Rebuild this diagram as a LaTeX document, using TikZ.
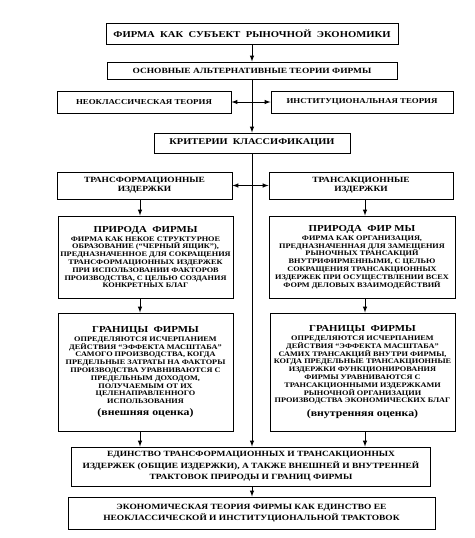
\documentclass[tikz,border=0pt]{standalone}
\usepackage{fontspec}
\setmainfont{Liberation Serif}[FakeStretch=1.18]
\usetikzlibrary{calc}
\newcommand\boxfont[2]{\fontsize{#1}{#2}\selectfont\bfseries}

\begin{document}
\begin{tikzpicture}[x=1pt,y=-1pt]
		\tikzstyle{every path}=[line width=1pt]
		\tikzstyle{ArrSty}=[->,>=latex]
		\tikzstyle{DblSty}=[<->,>=latex]
		\tikzstyle{frame}=[draw,inner sep=1pt,align=center,font=\boxfont{7}{7.8}]

\useasboundingbox (0,0) rectangle (474,538);

\coordinate (cx) at (252,0);
\coordinate (lx) at (140,0);
\coordinate (rx) at (365,0);

% upper part
\node[frame,minimum width=292,minimum height=21,font=\boxfont{9}{11}] at (252,33.5) (firm) {ФИРМА\ \ КАК\ \ СУБЪЕКТ\ \ РЫНОЧНОЙ\ \ ЭКОНОМИКИ};
\node[frame,minimum width=290,minimum height=17,font=\boxfont{8}{9}] at (252,70.5) (alt) {ОСНОВНЫЕ АЛЬТЕРНАТИВНЫЕ ТЕОРИИ ФИРМЫ};
\node[frame,minimum width=174,minimum height=22,font=\boxfont{7.5}{9}] at (144,102) (neo) {НЕОКЛАССИЧЕСКАЯ ТЕОРИЯ};
\node[frame,minimum width=182,minimum height=22,font=\boxfont{7.5}{9}] at (362,102) (inst) {ИНСТИТУЦИОНАЛЬНАЯ ТЕОРИЯ};
\node[frame,minimum width=196,minimum height=20,font=\boxfont{8.8}{10}] at (252,143) (crit) {КРИТЕРИИ\ \ КЛАССИФИКАЦИИ};
\node[frame,minimum width=175,minimum height=27,font=\boxfont{8}{9}] at (144.5,185.5) (transf) {ТРАНСФОРМАЦИОННЫЕ\\ИЗДЕРЖКИ};
\node[frame,minimum width=184,minimum height=27,font=\boxfont{8}{9}] at (361,185.5) (transa) {ТРАНСАКЦИОННЫЕ\\ИЗДЕРЖКИ};

% nature of the firm
\node[frame,minimum width=175,minimum height=82] at (145.5,257) (natl) {{\boxfont{9.2}{11}ПРИРОДА\ \ ФИРМЫ}\\[1pt]
ФИРМА КАК НЕКОЕ СТРУКТУРНОЕ\\
ОБРАЗОВАНИЕ (“ЧЕРНЫЙ ЯЩИК”),\\
ПРЕДНАЗНАЧЕННОЕ ДЛЯ СОКРАЩЕНИЯ\\
ТРАНСФОРМАЦИОННЫХ ИЗДЕРЖЕК\\
ПРИ ИСПОЛЬЗОВАНИИ ФАКТОРОВ\\
ПРОИЗВОДСТВА, С ЦЕЛЬЮ СОЗДАНИЯ\\
КОНКРЕТНЫХ БЛАГ};
\node[frame,minimum width=186,minimum height=82] at (362,257) (natr) {{\boxfont{9.2}{11}ПРИРОДА\ \ ФИР МЫ}\\[1pt]
ФИРМА КАК ОРГАНИЗАЦИЯ,\\
ПРЕДНАЗНАЧЕННАЯ ДЛЯ ЗАМЕЩЕНИЯ\\
РЫНОЧНЫХ ТРАНСАКЦИЙ\\
ВНУТРИФИРМЕННЫМИ, С ЦЕЛЬЮ\\
СОКРАЩЕНИЯ ТРАНСАКЦИОННЫХ\\
ИЗДЕРЖЕК ПРИ ОСУЩЕСТВЛЕНИИ ВСЕХ\\
ФОРМ ДЕЛОВЫХ ВЗАИМОДЕЙСТВИЙ};

% boundaries of the firm
\node[frame,minimum width=175,minimum height=118] at (145.5,372) (bndl) {{\boxfont{9.2}{11}ГРАНИЦЫ\ \ ФИРМЫ}\\[1pt]
ОПРЕДЕЛЯЮТСЯ ИСЧЕРПАНИЕМ\\
ДЕЙСТВИЯ “ЭФФЕКТА МАСШТАБА”\\
САМОГО ПРОИЗВОДСТВА, КОГДА\\
ПРЕДЕЛЬНЫЕ ЗАТРАТЫ НА ФАКТОРЫ\\
ПРОИЗВОДСТВА УРАВНИВАЮТСЯ С\\
ПРЕДЕЛЬНЫМ ДОХОДОМ,\\
ПОЛУЧАЕМЫМ ОТ ИХ\\
ЦЕЛЕНАПРАВЛЕННОГО\\
ИСПОЛЬЗОВАНИЯ\\[4pt]
{\boxfont{10}{11}(внешняя оценка)}};
\node[frame,minimum width=185,minimum height=118] at (362.5,372) (bndr) {{\boxfont{9.2}{11}ГРАНИЦЫ\ \ ФИРМЫ}\\[1pt]
ОПРЕДЕЛЯЮТСЯ ИСЧЕРПАНИЕМ\\
ДЕЙСТВИЯ “ЭФФЕКТА МАСШТАБА”\\
САМИХ ТРАНСАКЦИЙ ВНУТРИ ФИРМЫ,\\
КОГДА ПРЕДЕЛЬНЫЕ ТРАНСАКЦИОННЫЕ\\
ИЗДЕРЖКИ ФУНКЦИОНИРОВАНИЯ\\
ФИРМЫ УРАВНИВАЮТСЯ С\\
ТРАНСАКЦИОННЫМИ ИЗДЕРЖКАМИ\\
РЫНОЧНОЙ ОРГАНИЗАЦИИ\\
ПРОИЗВОДСТВА ЭКОНОМИЧЕСКИХ БЛАГ\\[4pt]
{\boxfont{10}{11}(внутренняя оценка)}};

% lower part
\node[frame,minimum width=359,minimum height=39,font=\boxfont{8}{11.5}] at (251,466.5) (unity) {ЕДИНСТВО ТРАНСФОРМАЦИОННЫХ И ТРАНСАКЦИОННЫХ\\
ИЗДЕРЖЕК (ОБЩИЕ ИЗДЕРЖКИ), А ТАКЖЕ ВНЕШНЕЙ И ВНУТРЕННЕЙ\\
ТРАКТОВОК ПРИРОДЫ И ГРАНИЦ ФИРМЫ};
\node[frame,minimum width=367,minimum height=32,font=\boxfont{8}{11.5}] at (251.5,513) (econ) {ЭКОНОМИЧЕСКАЯ ТЕОРИЯ ФИРМЫ КАК ЕДИНСТВО ЕЕ\\
НЕОКЛАССИЧЕСКОЙ И ИНСТИТУЦИОНАЛЬНОЙ ТРАКТОВОК};

\draw[ArrSty] (firm) -- (alt);
\draw[ArrSty] (alt.south -| cx) -- (crit.north -| cx);
\draw[DblSty] (neo.east) -- (inst.west);
\draw[ArrSty] (crit.south -| cx) -- (unity.north -| cx);
\draw[DblSty] (transf.east) -- (transa.west);

\draw[ArrSty] (transf.south -| lx) -- (natl.north -| lx);
\draw[ArrSty] (natl.south -| lx) -- (bndl.north -| lx);
\draw[ArrSty] (bndl.south -| lx) -- (unity.north -| lx);
\draw[ArrSty] (transa.south -| rx) -- (natr.north -| rx);
\draw[ArrSty] (natr.south -| rx) -- (bndr.north -| rx);
\draw[ArrSty] (bndr.south -| rx) -- (unity.north -| rx);

\draw[ArrSty] (unity.south -| cx) -- (econ.north -| cx);

\end{tikzpicture}
\end{document}
